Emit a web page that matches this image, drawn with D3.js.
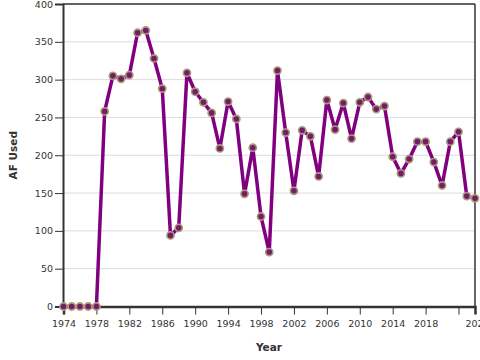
<!DOCTYPE html>
<html>
<head>
<meta charset="utf-8">
<script src="https://cdn.jsdelivr.net/npm/d3@7"></script>
<style>
  body { margin: 0; background: #fff; }
  svg { display: block; font-family: "DejaVu Sans", sans-serif; }
</style>
</head>
<body>
<div id="chart"></div>
<script>
// datos
var years = d3.range(1974, 2025);
var afUsed = [0, 0, 0, 0, 0, 258, 305, 301, 306, 362, 365, 328, 288, 94, 104,
  309, 284, 270, 256, 209, 271, 248, 149, 210, 119, 72, 312, 230, 153, 233, 225,
  172, 273, 234, 269, 222, 270, 277, 261, 265, 198, 176, 195, 218, 218, 191,
  160, 218, 231, 146, 143];
var yTicks = [0, 50, 100, 150, 200, 250, 300, 350, 400];
var xTicks = d3.range(1974, 2023, 4);

var width = 480, height = 360;
var margin = { top: 4, right: 5, bottom: 53.5, left: 63 };
var w = width - margin.left - margin.right;
var h = height - margin.top - margin.bottom;

var svg = d3.select('#chart').append('svg')
    .attr('width', width)
    .attr('height', height);

var g = svg.append('g')
    .attr('transform', 'translate(' + margin.left + ',' + margin.top + ')');

var x = d3.scaleLinear().domain([1974, 2024]).range([0.5, w]);
var y = d3.scaleLinear().domain([0, 400]).range([h, 0]);

// lineas de grilla
g.selectAll('.grid').data(yTicks.slice(1)).enter().append('line')
    .attr('x1', 0).attr('x2', w)
    .attr('y1', function (d) { return y(d); })
    .attr('y2', function (d) { return y(d); })
    .attr('stroke', '#dcdcdc').attr('stroke-width', 1);

// borde superior y derecho
g.append('line').attr('x1', 0).attr('x2', w).attr('y1', 0).attr('y2', 0)
    .attr('stroke', '#333').attr('stroke-width', 1.5);
g.append('line').attr('x1', w).attr('x2', w).attr('y1', 0).attr('y2', h)
    .attr('stroke', '#333').attr('stroke-width', 1.5);

// eje Y
var yAxis = g.append('g')
    .call(d3.axisLeft(y).tickValues(yTicks).tickSize(8).tickPadding(2));
yAxis.select('.domain').attr('stroke', '#333').attr('stroke-width', 2);
yAxis.selectAll('.tick line').attr('stroke', '#333');
yAxis.selectAll('text').attr('font-size', '9.5px').attr('fill', '#333')
    .attr('font-family', '"DejaVu Sans", sans-serif');

// eje X
var xAxis = g.append('g')
    .attr('transform', 'translate(0,' + h + ')')
    .call(d3.axisBottom(x).tickValues(xTicks).tickFormat(d3.format('d')).tickSize(8).tickPadding(6));
xAxis.select('.domain').attr('stroke', '#333').attr('stroke-width', 2.5);
xAxis.selectAll('.tick line').attr('stroke', '#333');
xAxis.selectAll('text').attr('font-size', '9.5px').attr('fill', '#333')
    .attr('font-family', '"DejaVu Sans", sans-serif');
// la ultima etiqueta aparece corrida hacia el borde
xAxis.selectAll('.tick').filter(function (d) { return d === 2022; })
    .select('text').attr('dx', x(2024) - x(2022) + 2);

// linea
var line = d3.line()
    .x(function (d, i) { return x(years[i]); })
    .y(function (d) { return y(d); });

g.append('path')
    .datum(afUsed)
    .attr('fill', 'none')
    .attr('stroke', '#800080')
    .attr('stroke-width', 3.5)
    .attr('stroke-linejoin', 'round')
    .attr('d', line);

// puntos
g.selectAll('.pt').data(afUsed).enter().append('circle')
    .attr('cx', function (d, i) { return x(years[i]); })
    .attr('cy', function (d) { return y(d); })
    .attr('r', 3.6)
    .attr('fill', '#761a6a')
    .attr('stroke', '#a99c78')
    .attr('stroke-width', 1.6);

// titulos
svg.append('text')
    .attr('transform', 'translate(17,' + (margin.top + h / 2) + ') rotate(-90)')
    .attr('text-anchor', 'middle')
    .attr('font-size', '10.5px')
    .attr('font-weight', 'bold')
    .attr('fill', '#333')
    .text('AF Used');

svg.append('text')
    .attr('x', margin.left + w / 2)
    .attr('y', 351)
    .attr('text-anchor', 'middle')
    .attr('font-size', '10.5px')
    .attr('font-weight', 'bold')
    .attr('fill', '#333')
    .text('Year');
</script>
</body>
</html>
